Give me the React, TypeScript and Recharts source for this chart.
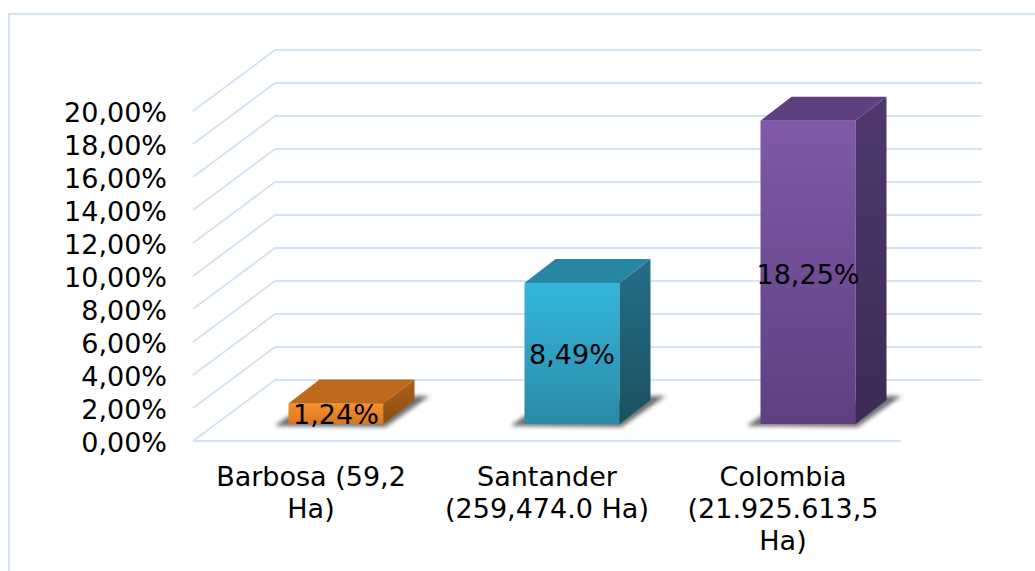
import { BarChart, Bar, XAxis, YAxis, CartesianGrid, LabelList } from 'recharts';

const categories = ['Barbosa (59,2\nHa)', 'Santander\n(259,474.0 Ha)', 'Colombia\n(21.925.613,5\nHa)'];
const shares = [1.24, 8.49, 18.25];
const yTicks = [0, 2, 4, 6, 8, 10, 12, 14, 16, 18, 20];

const chartData = categories.map((name, i) => ({ name, share: shares[i] }));

const FONT = '"DejaVu Sans", Verdana, sans-serif';
const GRID = '#d4e2f5';

// fake 3D: how far the back wall sits from the front of the floor
const WALL_DX = 82;
const WALL_DY = 61;
// bars stand a bit inside the floor, and have their own depth
const BAR_DX = 24.5;
const BAR_DY = 17;
const DEPTH_X = 31;
const DEPTH_Y = 24;
// the 3D bars run a touch taller than the wall scale
const BAR_STRETCH = 1.007;

const palette = [
  { front: ['#f7912d', '#d8771f'], top: '#bf691b', side: ['#ab611c', '#8a4d14'] },
  { front: ['#33b6dc', '#2a8aa8'], top: '#2786a4', side: ['#246f88', '#1a515f'] },
  { front: ['#7f59a8', '#5f3f80'], top: '#5e4080', side: ['#50386f', '#3d2a54'] },
];

const fmtPct = (v: number) => v.toFixed(2).replace('.', ',') + '%';

function GridLine(props: any) {
  const { x1, x2, y1, y2 } = props;
  const isFloor = props.index === 0;
  return (
    <g key={props.key} fill="none" stroke={GRID} strokeWidth={2}>
      <line x1={x1} y1={y1} x2={x1 + WALL_DX} y2={y1 - WALL_DY} />
      <line x1={x1 + WALL_DX} y1={y1 - WALL_DY} x2={x2 + WALL_DX - 1} y2={y2 - WALL_DY} />
      {isFloor && <line x1={x1} y1={y1} x2={x2} y2={y2} />}
    </g>
  );
}

function Box(props: any) {
  const { x, y, width, height, index } = props;
  const c = palette[index];
  const l = x + BAR_DX;
  const r = l + width;
  const b = y + height - BAR_DY;
  const h = height * BAR_STRETCH;
  const t = b - h;
  return (
    <g>
      <polygon
        points={`${l - 14},${b + 2} ${r + 2},${b + 3} ${r + DEPTH_X + 15},${b - DEPTH_Y - 4} ${r + DEPTH_X},${b - DEPTH_Y - 4} ${l},${b - 8}`}
        fill="#333"
        opacity={0.7}
        filter="url(#floorShadow)"
      />
      <rect x={l} y={t} width={width} height={h} fill={`url(#front${index})`} />
      <polygon
        points={`${l},${t} ${l + DEPTH_X},${t - DEPTH_Y} ${r + DEPTH_X},${t - DEPTH_Y} ${r},${t}`}
        fill={c.top}
      />
      <polygon
        points={`${r},${t} ${r + DEPTH_X},${t - DEPTH_Y} ${r + DEPTH_X},${b - DEPTH_Y} ${r},${b}`}
        fill={`url(#side${index})`}
      />
    </g>
  );
}

function BarLabel(props: any) {
  const { x, y, width, height, value } = props;
  return (
    <text
      x={x + BAR_DX + width / 2}
      y={y - BAR_DY + height / 2 + 1}
      textAnchor="middle"
      dominantBaseline="central"
      fontFamily={FONT}
      fontSize={27}
      fill="#000"
    >
      {fmtPct(value)}
    </text>
  );
}

function CategoryTick(props: any) {
  const { x, y, payload } = props;
  return (
    <text x={x} y={y} textAnchor="middle" fontFamily={FONT} fontSize={27} fill="#000">
      {String(payload.value).split('\n').map((line, i) => (
        <tspan key={i} x={x} y={y + 37 + i * 32}>{line}</tspan>
      ))}
    </text>
  );
}

export default function App() {
  return (
    <div style={{ position: 'absolute', left: 0, top: 0, width: 1035, height: 571, background: '#fff', overflow: 'hidden' }}>
      <div style={{ position: 'absolute', left: 8, top: 13, width: 1040, height: 600, border: `2px solid ${GRID}` }} />
      <BarChart
        width={1035}
        height={571}
        data={chartData}
        margin={{ top: 111, right: 134, bottom: 0, left: 0 }}
        barSize={95}
        style={{ position: 'absolute', left: 0, top: 0 }}
      >
        <defs>
          {palette.map((c, i) => (
            <linearGradient key={i} id={`front${i}`} x1="0" y1="0" x2="0" y2="1">
              <stop offset="0%" stopColor={c.front[0]} />
              <stop offset="100%" stopColor={c.front[1]} />
            </linearGradient>
          ))}
          {palette.map((c, i) => (
            <linearGradient key={i} id={`side${i}`} x1="0" y1="0" x2="0" y2="1">
              <stop offset="0%" stopColor={c.side[0]} />
              <stop offset="100%" stopColor={c.side[1]} />
            </linearGradient>
          ))}
          <filter id="floorShadow" x="-20%" y="-40%" width="140%" height="180%">
            <feGaussianBlur stdDeviation="2" />
          </filter>
        </defs>
        <CartesianGrid horizontal={(p: any) => <GridLine {...p} />} vertical={false} />
        <XAxis
          dataKey="name"
          height={130}
          axisLine={false}
          tickLine={false}
          interval={0}
          tick={<CategoryTick />}
        />
        <YAxis
          width={193}
          domain={[0, 20]}
          ticks={yTicks}
          interval={0}
          axisLine={false}
          tickLine={false}
          tickSize={0}
          tickMargin={26}
          tickFormatter={fmtPct}
          tick={{ fill: '#000', fontFamily: FONT, fontSize: 27, dy: 1 }}
        />
        <Bar dataKey="share" shape={<Box />} isAnimationActive={false}>
          <LabelList dataKey="share" content={<BarLabel />} />
        </Bar>
      </BarChart>
    </div>
  );
}
